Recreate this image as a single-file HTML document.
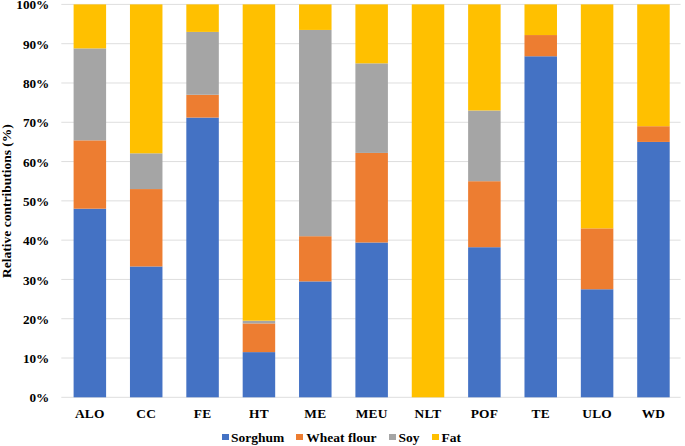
<!DOCTYPE html>
<html><head><meta charset="utf-8"><style>
html,body{margin:0;padding:0;background:#fff}
#c{position:relative;width:685px;height:446px;overflow:hidden;background:#fff;font-family:"Liberation Serif",serif;font-weight:bold;color:#000}
.yl{position:absolute;left:0;width:49.3px;text-align:right;font-size:13.2px;line-height:16px;height:16px;opacity:0.999}
.xl{position:absolute;top:406.3px;width:60px;text-align:center;font-size:13.4px;line-height:16px;letter-spacing:0.2px;opacity:0.999}
.lm{position:absolute;top:433.5px;width:7px;height:6.6px}
.lt{position:absolute;opacity:0.999;top:429.5px;font-size:13.5px;line-height:16px;white-space:nowrap}
#yt{position:absolute;left:6.8px;top:200.8px;width:0;height:0}
#yt span{position:absolute;left:-100px;top:-8px;width:200px;height:16px;line-height:16px;text-align:center;font-size:13.5px;transform:rotate(-90deg);white-space:nowrap}
</style></head><body><div id="c">
<svg width="685" height="446" viewBox="0 0 685 446" style="position:absolute;left:0;top:0"><rect x="61.3" y="396.80" width="619.30" height="1" fill="#DEDEDE"/><rect x="61.3" y="357.51" width="619.30" height="1" fill="#DEDEDE"/><rect x="61.3" y="318.22" width="619.30" height="1" fill="#DEDEDE"/><rect x="61.3" y="278.93" width="619.30" height="1" fill="#DEDEDE"/><rect x="61.3" y="239.64" width="619.30" height="1" fill="#DEDEDE"/><rect x="61.3" y="200.35" width="619.30" height="1" fill="#DEDEDE"/><rect x="61.3" y="161.06" width="619.30" height="1" fill="#DEDEDE"/><rect x="61.3" y="121.77" width="619.30" height="1" fill="#DEDEDE"/><rect x="61.3" y="82.48" width="619.30" height="1" fill="#DEDEDE"/><rect x="61.3" y="43.19" width="619.30" height="1" fill="#DEDEDE"/><rect x="61.3" y="3.90" width="619.30" height="1" fill="#DEDEDE"/><rect x="73.60" y="208.71" width="32.5" height="188.59" fill="#4472C4"/><rect x="73.60" y="140.34" width="32.5" height="68.36" fill="#ED7D31"/><rect x="73.60" y="48.40" width="32.5" height="91.94" fill="#A5A5A5"/><rect x="73.60" y="4.40" width="32.5" height="44.00" fill="#FFC000"/><rect x="129.96" y="266.46" width="32.5" height="130.84" fill="#4472C4"/><rect x="129.96" y="189.06" width="32.5" height="77.40" fill="#ED7D31"/><rect x="129.96" y="153.31" width="32.5" height="35.75" fill="#A5A5A5"/><rect x="129.96" y="4.40" width="32.5" height="148.91" fill="#FFC000"/><rect x="186.32" y="117.56" width="32.5" height="279.74" fill="#4472C4"/><rect x="186.32" y="94.77" width="32.5" height="22.79" fill="#ED7D31"/><rect x="186.32" y="31.90" width="32.5" height="62.86" fill="#A5A5A5"/><rect x="186.32" y="4.40" width="32.5" height="27.50" fill="#FFC000"/><rect x="242.68" y="352.12" width="32.5" height="45.18" fill="#4472C4"/><rect x="242.68" y="323.43" width="32.5" height="28.68" fill="#ED7D31"/><rect x="242.68" y="320.68" width="32.5" height="2.75" fill="#A5A5A5"/><rect x="242.68" y="4.40" width="32.5" height="316.28" fill="#FFC000"/><rect x="299.04" y="281.39" width="32.5" height="115.91" fill="#4472C4"/><rect x="299.04" y="236.21" width="32.5" height="45.18" fill="#ED7D31"/><rect x="299.04" y="29.94" width="32.5" height="206.27" fill="#A5A5A5"/><rect x="299.04" y="4.40" width="32.5" height="25.54" fill="#FFC000"/><rect x="355.40" y="242.50" width="32.5" height="154.80" fill="#4472C4"/><rect x="355.40" y="152.92" width="32.5" height="89.58" fill="#ED7D31"/><rect x="355.40" y="63.34" width="32.5" height="89.58" fill="#A5A5A5"/><rect x="355.40" y="4.40" width="32.5" height="58.94" fill="#FFC000"/><rect x="411.76" y="4.40" width="32.5" height="392.90" fill="#FFC000"/><rect x="468.12" y="247.21" width="32.5" height="150.09" fill="#4472C4"/><rect x="468.12" y="181.20" width="32.5" height="66.01" fill="#ED7D31"/><rect x="468.12" y="110.48" width="32.5" height="70.72" fill="#A5A5A5"/><rect x="468.12" y="4.40" width="32.5" height="106.08" fill="#FFC000"/><rect x="524.48" y="56.26" width="32.5" height="341.04" fill="#4472C4"/><rect x="524.48" y="35.05" width="32.5" height="21.22" fill="#ED7D31"/><rect x="524.48" y="4.40" width="32.5" height="30.65" fill="#FFC000"/><rect x="580.84" y="289.25" width="32.5" height="108.05" fill="#4472C4"/><rect x="580.84" y="228.35" width="32.5" height="60.90" fill="#ED7D31"/><rect x="580.84" y="4.40" width="32.5" height="223.95" fill="#FFC000"/><rect x="637.20" y="141.91" width="32.5" height="255.39" fill="#4472C4"/><rect x="637.20" y="126.20" width="32.5" height="15.72" fill="#ED7D31"/><rect x="637.20" y="4.40" width="32.5" height="121.80" fill="#FFC000"/></svg>
<div class="yl" style="top:390.4px">0%</div><div class="yl" style="top:351.1px">10%</div><div class="yl" style="top:311.8px">20%</div><div class="yl" style="top:272.5px">30%</div><div class="yl" style="top:233.2px">40%</div><div class="yl" style="top:194.0px">50%</div><div class="yl" style="top:154.7px">60%</div><div class="yl" style="top:115.4px">70%</div><div class="yl" style="top:76.1px">80%</div><div class="yl" style="top:36.8px">90%</div><div class="yl" style="top:-3.3px">100%</div><div class="xl" style="left:59.8px">ALO</div><div class="xl" style="left:116.2px">CC</div><div class="xl" style="left:172.6px">FE</div><div class="xl" style="left:228.9px">HT</div><div class="xl" style="left:285.3px">ME</div><div class="xl" style="left:341.6px">MEU</div><div class="xl" style="left:398.0px">NLT</div><div class="xl" style="left:454.4px">POF</div><div class="xl" style="left:510.7px">TE</div><div class="xl" style="left:567.1px">ULO</div><div class="xl" style="left:623.5px">WD</div><div class="lm" style="left:221.6px;background:#4472C4"></div><div class="lt" style="left:231.0px">Sorghum</div><div class="lm" style="left:296.0px;background:#ED7D31"></div><div class="lt" style="left:306.3px">Wheat flour</div><div class="lm" style="left:389.0px;background:#A5A5A5"></div><div class="lt" style="left:398.5px">Soy</div><div class="lm" style="left:431.6px;background:#FFC000"></div><div class="lt" style="left:441.5px">Fat</div>
<div id="yt"><span>Relative contributions (%)</span></div>
</div></body></html>
